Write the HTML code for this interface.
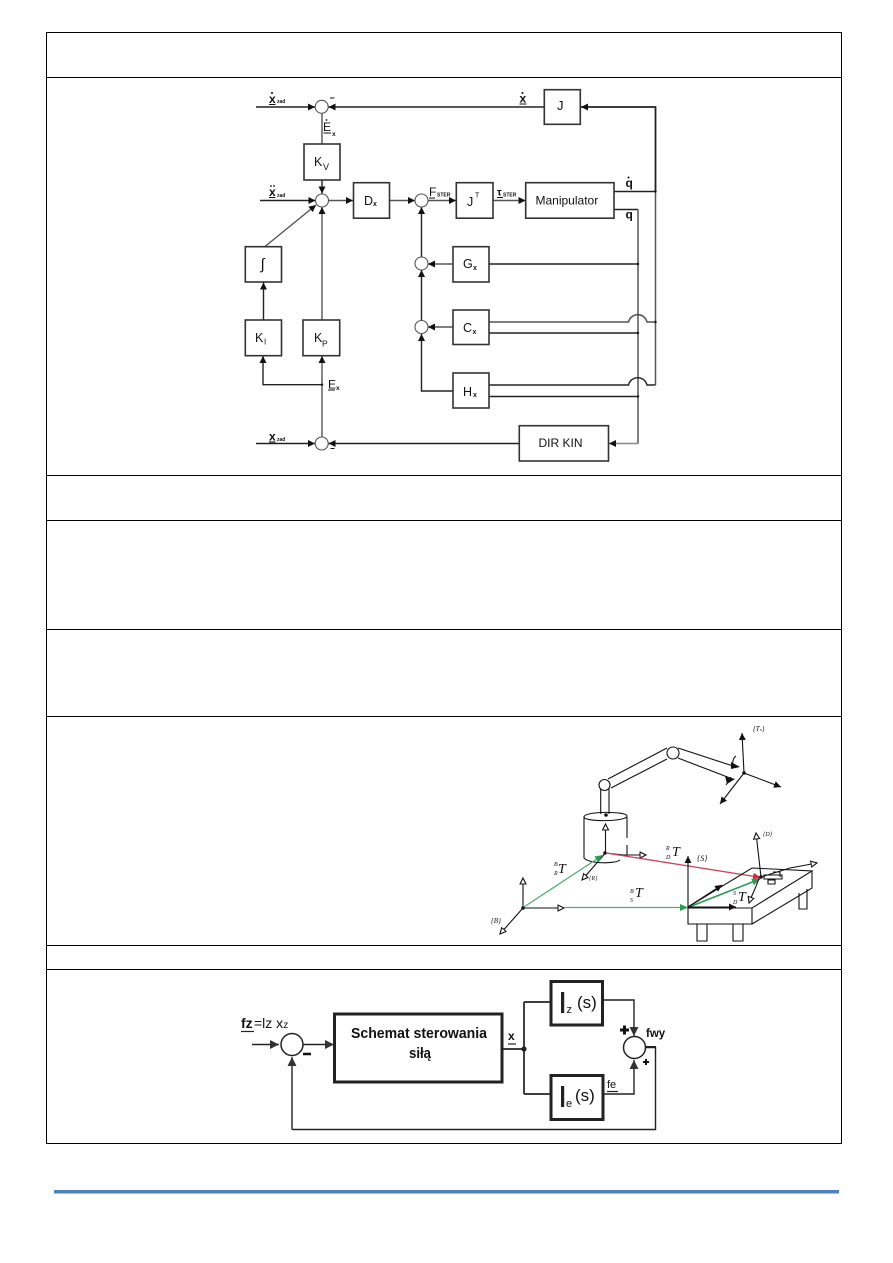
<!DOCTYPE html>
<html><head><meta charset="utf-8"><style>
html,body{margin:0;padding:0;background:#fff}
svg{display:block}
text{font-family:"Liberation Sans",sans-serif;fill:#111}
.box{fill:#fff;stroke:#333;stroke-width:1.6}
.l{fill:none;stroke:#222;stroke-width:1.4}
.g{fill:none;stroke:#555;stroke-width:1.4}
.s{fill:#fff;stroke:#555;stroke-width:1.1}
.t{fill:none;stroke:#111;stroke-width:1.1}
.o{fill:#fff;stroke:#111;stroke-width:1.1}
.k{fill:none;stroke:#222;stroke-width:1.4}
.K{fill:#fff;stroke:#222;stroke-width:3}
.se{font-family:"Liberation Serif",serif;font-style:italic}
</style></head><body>
<svg width="893" height="1263" viewBox="0 0 893 1263" xmlns="http://www.w3.org/2000/svg">
<defs>
<marker id="a" markerUnits="userSpaceOnUse" markerWidth="9" markerHeight="8" refX="7" refY="3.500" orient="auto"><path d="M0 0L7 3.500L0 7z" fill="#111"/></marker>
<marker id="c" markerUnits="userSpaceOnUse" markerWidth="10" markerHeight="10" refX="9" refY="4.500" orient="auto"><path d="M0 0L9 4.500L0 9z" fill="#333"/></marker>
<marker id="w" markerUnits="userSpaceOnUse" markerWidth="8" markerHeight="8" refX="6.500" refY="3.500" orient="auto"><path d="M0.500 0.500L6.500 3.500L0.500 6.500z" fill="#fff" stroke="#111" stroke-width="1.100"/></marker>
<marker id="gr" markerUnits="userSpaceOnUse" markerWidth="9" markerHeight="8" refX="8" refY="3.500" orient="auto"><path d="M0 0L8 3.500L0 7z" fill="#2c9a55"/></marker>
<marker id="re" markerUnits="userSpaceOnUse" markerWidth="9" markerHeight="8" refX="8" refY="3.500" orient="auto"><path d="M0 0L8 3.500L0 7z" fill="#d22c3c"/></marker>
</defs>
<rect width="893" height="1263" fill="#fff"/>

<!-- table -->
<g stroke="#000" stroke-width="1" fill="none">
<rect x="46.500" y="32.500" width="795" height="1111"/>
<path d="M46 77.500H842M46 475.500H842M46 520.500H842M46 629.500H842M46 716.500H842M46 945.500H842M46 969.500H842"/>
</g>
<rect x="54" y="1190" width="785" height="3.500" fill="#4f81bd"/>

<!-- diagram 1 lines -->
<g>
<path class="l" d="M256 107H315" marker-end="url(#a)"/>
<path class="l" d="M544 107H328.500" marker-end="url(#a)"/>
<path class="l" style="stroke-width:1.800" d="M655.500 191.500V107H581" marker-end="url(#a)"/>
<path class="g" d="M322 113V144"/>
<path class="l" d="M322 180V193.500" marker-end="url(#a)"/>
<path class="l" d="M260 200.500H315.500" marker-end="url(#a)"/>
<path class="g" d="M328.500 200.500H353" marker-end="url(#a)"/>
<path class="g" d="M389.500 200.500H415" marker-end="url(#a)"/>
<path class="g" d="M428 200.500H456" marker-end="url(#a)"/>
<path class="g" d="M493 200.500H525.500" marker-end="url(#a)"/>
<path class="g" d="M265 246.500L316 205" marker-end="url(#a)"/>
<path class="g" d="M322 320V207" marker-end="url(#a)"/>
<path class="l" d="M263.500 320V282.500" marker-end="url(#a)"/>
<path class="g" d="M322 437V356" marker-end="url(#a)"/>
<path class="l" d="M322 384.700H263V356" marker-end="url(#a)"/>
<path class="l" d="M256 443.500H315" marker-end="url(#a)"/>
<path class="l" style="stroke-width:1.600" d="M519.500 443.500H328.500" marker-end="url(#a)"/>
<path class="l" d="M421.500 257V207" marker-end="url(#a)"/>
<path class="l" d="M421.500 320.500V270" marker-end="url(#a)"/>
<path class="l" d="M453 391H421.500V334" marker-end="url(#a)"/>
<path class="g" d="M453 264H428" marker-end="url(#a)"/>
<path class="g" d="M453 327H428" marker-end="url(#a)"/>
<path class="l" d="M614 191.500H655.500"/>
<path class="l" d="M614 209.500H638"/>
<path class="g" style="stroke-width:1.500" d="M638 209.500V443.500"/>
<path class="g" style="stroke:#888" d="M638 443.500H609" marker-end="url(#a)"/>
<path class="g" style="stroke-width:1.500" d="M655.500 191.500V385"/>
<path class="l" d="M489 264H638"/>
<path class="g" style="stroke-width:1.600" d="M489 322H628.500A9.500 9.500 0 0 1 647 322H655.500"/>
<path class="l" d="M489 333H638"/>
<path class="l" d="M489 385H628.500A9.500 9.500 0 0 1 647 385H655.500"/>
<path class="l" d="M489 396.500H638"/>
<g fill="#111"><circle cx="655.500" cy="191.500" r="1.200"/><circle cx="638" cy="264" r="1.200"/><circle cx="638" cy="333" r="1.200"/><circle cx="638" cy="396.500" r="1.200"/><circle cx="655.500" cy="322" r="1.200"/><circle cx="322" cy="384.700" r="1.200"/></g>
<!-- summers -->
<circle class="s" cx="321.700" cy="106.800" r="6.500"/>
<circle class="s" cx="322" cy="200.500" r="6.500"/>
<circle class="s" cx="421.500" cy="200.500" r="6.500"/>
<circle class="s" cx="421.500" cy="263.500" r="6.500"/>
<circle class="s" cx="421.500" cy="327" r="6.500"/>
<circle class="s" cx="321.700" cy="443.500" r="6.500"/>
<!-- boxes -->
<rect class="box" x="304" y="144" width="36" height="36"/>
<rect class="box" x="353.500" y="182.700" width="36" height="35.500"/>
<rect class="box" x="456.300" y="182.700" width="36.700" height="35.500"/>
<rect class="box" x="525.700" y="182.700" width="88.300" height="35.500"/>
<rect class="box" x="544.300" y="89.700" width="36" height="34.600"/>
<rect class="box" x="453" y="246.700" width="36" height="35.300"/>
<rect class="box" x="453" y="310" width="36" height="34.500"/>
<rect class="box" x="453" y="373" width="36" height="35"/>
<rect class="box" x="245.300" y="246.700" width="36.200" height="35.300"/>
<rect class="box" x="245.300" y="320" width="36.200" height="35.700"/>
<rect class="box" x="303" y="320" width="36.700" height="35.700"/>
<rect class="box" x="519.300" y="425.700" width="89.200" height="35.300"/>
<!-- box labels -->
<text x="314" y="166" font-size="12.500">K</text><text x="323" y="170" font-size="9">V</text>
<text x="364" y="205" font-size="12.500">D</text><text x="373" y="206" font-size="7" font-weight="bold">x</text>
<text x="467" y="206" font-size="12.500">J</text><text x="475" y="197.500" font-size="7">T</text>
<text x="535.500" y="204.500" font-size="12">Manipulator</text>
<text x="557" y="110" font-size="13">J</text>
<text x="463" y="268" font-size="12.500">G</text><text x="473" y="270" font-size="7" font-weight="bold">x</text>
<text x="463" y="332" font-size="12.500">C</text><text x="472.500" y="334" font-size="7" font-weight="bold">x</text>
<text x="463" y="396" font-size="12.500">H</text><text x="473" y="397" font-size="7" font-weight="bold">x</text>
<text x="260.500" y="269" font-size="15" font-style="italic">∫</text>
<text x="255" y="342" font-size="12.500">K</text><text x="264" y="344.500" font-size="8">I</text>
<text x="314" y="342" font-size="12.500">K</text><text x="322" y="346.500" font-size="8.500">P</text>
<text x="538.500" y="447" font-size="12">DIR KIN</text>
<!-- signal labels -->
<g font-weight="bold">
<text x="269" y="103" font-size="12">x</text><text x="277" y="103" font-size="5">zad</text>
<text x="269" y="196" font-size="12">x</text><text x="277" y="197" font-size="5">zad</text>
<text x="269" y="440.500" font-size="12">x</text><text x="277" y="441" font-size="5">zad</text>
<text x="519.500" y="102.500" font-size="12">x</text>
<text x="625.500" y="187" font-size="12">q</text>
<text x="625.500" y="218.500" font-size="12">q</text>
<text x="437" y="196.500" font-size="5">STER</text>
<text x="503" y="196.500" font-size="5">STER</text>
</g>
<g fill="#111">
<circle cx="272" cy="93" r="1"/><circle cx="522.500" cy="93" r="1"/><circle cx="628.500" cy="177.500" r="1"/>
<circle cx="271" cy="186" r=".9"/><circle cx="274" cy="186" r=".9"/>
<circle cx="326.500" cy="120" r=".9"/>
</g>
<g stroke="#111" stroke-width="1" fill="none">
<path d="M269 104.500H275.500M269 197.500H275.500M269 442H275.500M519.500 104H526.500M323.500 133H331M328 390H335M429 198H435M497 197.500H503M330 98H334.500M330.500 448.500H334.500"/>
</g>
<text x="323" y="131" font-size="12">E</text><text x="332" y="136" font-size="6.500" font-weight="bold">x</text>
<text x="328" y="388.500" font-size="12">E</text><text x="336" y="390" font-size="6.500" font-weight="bold">x</text>
<text x="429" y="196" font-size="12">F</text>
<text x="497" y="195.500" font-size="10.500" font-weight="bold">τ</text>

<!-- robot diagram -->
<g>
<!-- pillar + arm -->
<path class="t" d="M600.700 789V814M609 789V814"/>
<path class="t" d="M608 779L667 748M611 788L667 759"/>
<circle class="o" cx="604.500" cy="785" r="5.500"/>
<path class="t" d="M584 817C584 811 627 811 627 816C627 822 584 822 584 817zM584 817V858C590 864 615 864 620 860M627 817V838M627 845V855"/>
<circle cx="606" cy="815" r="1.800" fill="#111"/>
<path class="t" d="M605.500 853V824" marker-end="url(#w)"/>
<path class="t" d="M605.500 853L624 855H646" marker-end="url(#w)"/>
<path class="t" d="M605.500 853L582 880" marker-end="url(#w)"/>
<circle cx="605" cy="853" r="1.800" fill="#111"/>
<path class="t" d="M523 908V878" marker-end="url(#w)"/>
<path class="t" d="M523 908H564" marker-end="url(#w)"/>
<path class="t" d="M523 908L500 934" marker-end="url(#w)"/>
<circle cx="523" cy="908" r="1.800" fill="#111"/>
<path d="M524 907L603 855" stroke="#55ad73" stroke-width="1.300" fill="none" marker-end="url(#gr)"/>
<path d="M564 907.500L688 907.500" stroke="#55ad73" stroke-width="1.300" fill="none" marker-end="url(#gr)"/>
<path d="M606 853L761 877.500" stroke="#c9455a" stroke-width="1.300" fill="none" marker-end="url(#re)"/>
<path d="M689 907L760 879" stroke="#2c9a55" stroke-width="1.600" fill="none" marker-end="url(#gr)"/>
<!-- arm end -->
<path class="t" d="M678 748L733 766M678 758L730 778"/>
<circle class="o" cx="673" cy="753" r="6"/>
<path class="t" d="M733 766C732 761 734 757 736 756M726 785L731 777"/>
<path d="M731 762L740 767L731 769zM725 776L735 779L727 784z" fill="#111"/>
<path d="M744 773L742 733" stroke="#111" stroke-width="1.100" fill="none" marker-end="url(#a)"/>
<path d="M744 773L781 787" stroke="#111" stroke-width="1.100" fill="none" marker-end="url(#a)"/>
<path d="M744 773L720 804" stroke="#111" stroke-width="1.100" fill="none" marker-end="url(#a)"/>
<circle cx="744" cy="773" r="1.800" fill="#111"/>
<!-- table -->
<path class="t" d="M688 907L752 868L812 871L752 908H688V924H752V908M752 924L812 888V871"/>
<path class="t" d="M697 924V941H707V924M733 924V941H743V924M799 893V909H807V889"/>
<path d="M688 907V856" stroke="#111" stroke-width="1.100" fill="none" marker-end="url(#a)"/>
<path d="M688 907H736" stroke="#111" stroke-width="1.100" fill="none" marker-end="url(#a)"/>
<path d="M688 907L722 885" stroke="#111" stroke-width="1.100" fill="none" marker-end="url(#a)"/>
<path class="t" d="M761 877L756 833" marker-end="url(#w)"/>
<path class="t" d="M761 877L790 868L817 863" marker-end="url(#w)"/>
<path class="t" d="M759 878C756 888 753 892 749 903" marker-end="url(#w)"/>
<circle cx="761" cy="877" r="1.800" fill="#111"/>
<path class="t" d="M764 875H782V879H764zM768 880H775V884H768zM773 872H780V877"/>
<!-- labels -->
<text class="se" x="558" y="873" font-size="14">T</text><text class="se" x="554" y="866" font-size="6">B</text><text class="se" x="554" y="875" font-size="6">R</text>
<text class="se" x="635" y="897" font-size="14">T</text><text class="se" x="630" y="893" font-size="6">B</text><text class="se" x="630" y="902" font-size="6">S</text>
<text class="se" x="672" y="856" font-size="14">T</text><text class="se" x="666" y="850" font-size="6">R</text><text class="se" x="666" y="859" font-size="6">D</text>
<text class="se" x="738" y="901" font-size="14">T</text><text class="se" x="733" y="895" font-size="6">S</text><text class="se" x="733" y="904" font-size="6">D</text>
<text class="se" x="697" y="861" font-size="8">{S}</text>
<text class="se" x="491" y="923" font-size="7">{B}</text>
<text class="se" x="589" y="880" font-size="6">{R}</text>
<text class="se" x="763" y="836" font-size="6">{D}</text>
<text class="se" x="753" y="731" font-size="7">{T<tspan font-size="4">n</tspan>}</text>
</g>

<!-- diagram 3 -->
<path class="k" d="M252 1044.500H279" marker-end="url(#c)"/>
<path class="k" d="M303 1044.500H334" marker-end="url(#c)"/>
<path class="k" d="M292 1129.500H655.500V1047.500H645"/>
<path class="k" d="M292 1129.500V1057" marker-end="url(#c)"/>
<path class="k" style="stroke-width:1.700" d="M503 1049H524M524 1002H551M524 1094H551M524 1002V1094"/>
<path class="k" d="M603 1000H634V1036" marker-end="url(#c)"/>
<path class="k" d="M603 1094H634V1060" marker-end="url(#c)"/>
<circle cx="524" cy="1049" r="2.600" fill="#222"/>
<circle cx="292" cy="1044.500" r="11" fill="#fff" stroke="#222" stroke-width="1.500"/>
<circle cx="634.500" cy="1047.500" r="11" fill="#fff" stroke="#222" stroke-width="1.500"/>
<rect class="K" x="334.500" y="1014" width="167.500" height="68"/>
<rect class="K" x="551" y="981.500" width="51.500" height="43.500"/>
<rect class="K" x="551" y="1075.500" width="52" height="44"/>
<text x="351" y="1038" font-size="15" font-weight="bold" fill="#222" textLength="136" lengthAdjust="spacingAndGlyphs">Schemat sterowania</text>
<text x="420" y="1058" font-size="15" font-weight="bold" text-anchor="middle" fill="#222" textLength="22" lengthAdjust="spacingAndGlyphs">siłą</text>
<rect x="561" y="992" width="3.200" height="21" fill="#222"/>
<text x="566.500" y="1013" font-size="11">z</text><text x="577" y="1008" font-size="17">(s)</text>
<rect x="561" y="1086" width="3.200" height="21" fill="#222"/>
<text x="566" y="1107" font-size="11">e</text><text x="575" y="1101" font-size="17">(s)</text>
<text x="241" y="1028" font-size="14" font-weight="bold" fill="#222">fz</text>
<path d="M241 1031.500H254" stroke="#222" stroke-width="1.200"/>
<text x="254" y="1028" font-size="14" fill="#222">=lz x<tspan font-size="10">z</tspan></text>
<text x="508" y="1040" font-size="12" font-weight="bold" fill="#222">x</text>
<path d="M508 1044H516" stroke="#222" stroke-width="1.200"/>
<text x="646" y="1037" font-size="11.500" font-weight="bold" fill="#222">fwy</text>
<path d="M646 1046.500H656" stroke="#222" stroke-width="1"/>
<text x="607" y="1088" font-size="11" fill="#222">fe</text>
<path d="M607 1091.500H618" stroke="#222" stroke-width="1.200"/>
<path d="M620 1030H629M624.500 1025.500V1034.500" stroke="#111" stroke-width="3" fill="none"/>
<path d="M643 1062H649M646 1059V1065" stroke="#111" stroke-width="2" fill="none"/>
<path d="M303 1054H311" stroke="#111" stroke-width="2.500"/>
</svg>
</body></html>
